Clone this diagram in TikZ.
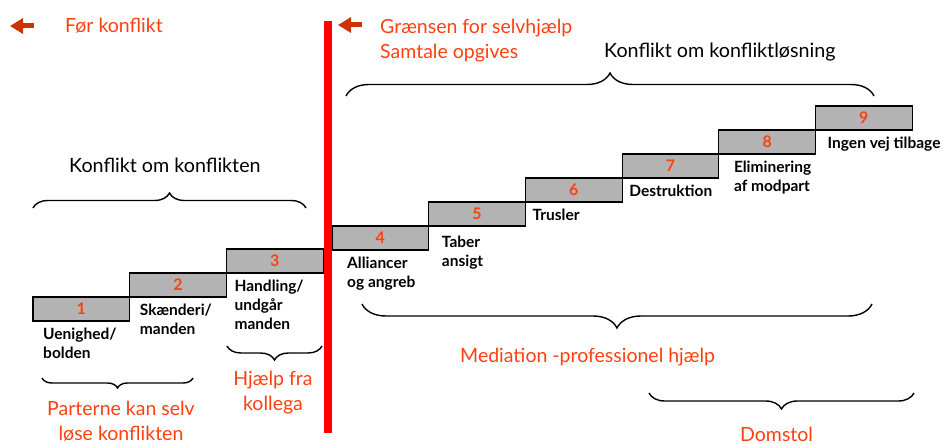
\documentclass[tikz,border=0pt]{standalone}
\usepackage{fontspec}
\setmainfont{Lato}
\usepackage{tikz}
\usetikzlibrary{decorations.pathreplacing,arrows.meta,positioning}
\definecolor{stepred}{RGB}{255,64,16}
\definecolor{arrowred}{RGB}{204,51,0}
\definecolor{stepgray}{RGB}{179,179,179}

\begin{document}
\begin{tikzpicture}[x=1pt,y=-1pt,
		stepbox/.style={draw=black,line width=1.1pt,fill=stepgray,minimum width=96.7pt,minimum height=24pt,inner sep=0pt,outer sep=0pt,text=stepred,font=\fontsize{16}{16}\selectfont\bfseries},
		steplabel/.style={anchor=north west,inner sep=0pt,align=left,font=\fontsize{15.5}{19}\selectfont\bfseries},
		redtext/.style={inner sep=0pt,text=stepred,font=\fontsize{19.5}{25}\selectfont},
		blacktext/.style={inner sep=0pt,font=\fontsize{19.7}{25}\selectfont},
		bracetop/.style={decorate,decoration={brace,amplitude=#1},line width=1.4pt},
		bracebot/.style={decorate,decoration={brace,mirror,amplitude=#1},line width=1.4pt},
		backarrow/.style={draw=arrowred,line width=5pt,-{Triangle[length=13pt,width=15pt]}},
		redline/.style={draw=red,line width=8pt}]
	
		\useasboundingbox (0,0) rectangle (945,444);
		
		\node[stepbox,anchor=north west] (s1) at (33,297) {1};
		\node[stepbox,anchor=south west] (s2) at (s1.north east) {2};
		\node[stepbox,anchor=south west] (s3) at (s2.north east) {3};
		\node[stepbox,anchor=north west] (s4) at (332,226) {4};
		\node[stepbox,anchor=south west] (s5) at (s4.north east) {5};
		\node[stepbox,anchor=south west] (s6) at (s5.north east) {6};
		\node[stepbox,anchor=south west] (s7) at (s6.north east) {7};
		\node[stepbox,anchor=south west] (s8) at (s7.north east) {8};
		\node[stepbox,anchor=south west] (s9) at (s8.north east) {9};
		
		\node[steplabel] (l1) at ([shift={(10,7)}]s1.south west) {Uenighed/\\bolden};
		\node[steplabel] (l2) at ([shift={(10,7)}]s2.south west) {Skænderi/\\manden};
		\node[steplabel] (l3) at ([shift={(8,7)}]s3.south west) {Handling/\\undgår\\manden};
		\node[steplabel] (l4) at ([shift={(15,7)}]s4.south west) {Alliancer\\og angreb};
		\node[steplabel] (l5) at ([shift={(13,10)}]s5.south west) {Taber\\ansigt};
		\node[steplabel] (l6) at ([shift={(7,7)}]s6.south west) {Trusler};
		\node[steplabel] (l7) at ([shift={(7,7)}]s7.south west) {Destruktion};
		\node[steplabel] (l8) at ([shift={(15,7)}]s8.south west) {Eliminering\\af modpart};
		\node[steplabel] (l9) at ([shift={(12,7)}]s9.south west) {Ingen vej tilbage};
		
		\coordinate (rtop) at (328,21);
		\coordinate (rbot) at (328,433);
		\draw[redline] (rtop) -- (rbot);
		
		\coordinate (a1s) at (34,26);
		\coordinate (a1e) at (10,26);
		\draw[backarrow] (a1s) -- (a1e);
		\coordinate (a2s) at (362,25);
		\coordinate (a2e) at (338,25);
		\draw[backarrow] (a2s) -- (a2e);
		
		\node[redtext,anchor=base west] (foer) at (65,33) {Før konflikt};
		\node[redtext,anchor=north west,align=left] (graense) at (380,19) {Grænsen for selvhjælp\\Samtale opgives};
		\node[blacktext,anchor=base west] (kloesning) at (604,58) {Konflikt om konfliktløsning};
		\node[blacktext,anchor=base west] (kkonflikt) at (69,172) {Konflikt om konflikten};
		\node[redtext,anchor=north,align=center] (kollega) at (273,371) {Hjælp fra\\kollega};
		\node[redtext,anchor=north,align=center] (parter) at (121,401) {Parterne kan selv\\løse konflikten};
		\node[redtext,anchor=base west] (mediation) at (460,362) {Mediation -professionel hjælp};
		\node[redtext,anchor=base west] (domstol) at (740,441) {Domstol};
		
		\coordinate (btl) at (346,96);
		\coordinate (btr) at (874,96);
		\draw[bracetop=23pt] (btl) -- (btr);
		\coordinate (bkl) at (33,208);
		\coordinate (bkr) at (306,208);
		\draw[bracetop=15pt] (bkl) -- (bkr);
		\coordinate (bpl) at (42,378);
		\coordinate (bpr) at (193,378);
		\draw[bracebot=10pt] (bpl) -- (bpr);
		\coordinate (bhl) at (227,346);
		\coordinate (bhr) at (322,346);
		\draw[bracebot=14pt] (bhl) -- (bhr);
		\coordinate (bml) at (362,304);
		\coordinate (bmr) at (872,304);
		\draw[bracebot=24pt] (bml) -- (bmr);
		\coordinate (bdl) at (649,393);
		\coordinate (bdr) at (914,393);
		\draw[bracebot=16pt] (bdl) -- (bdr);
	\end{tikzpicture}
\end{document}
